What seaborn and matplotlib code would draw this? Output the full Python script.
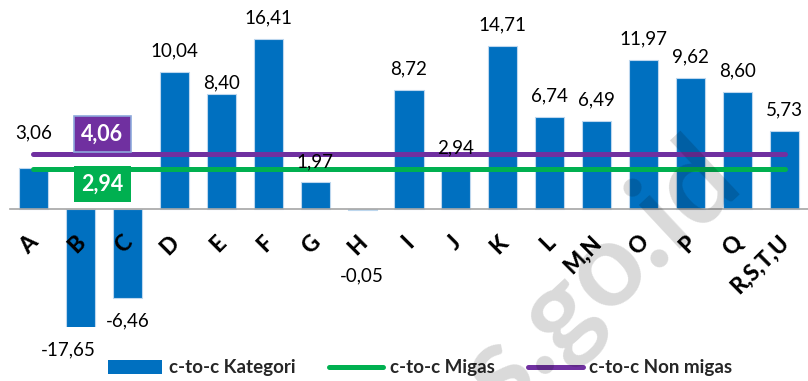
import numpy as np
import pandas as pd
import seaborn as sns
import matplotlib.pyplot as plt
from matplotlib.patches import Patch
from matplotlib.lines import Line2D
import matplotlib.transforms as mtransforms

categories = ['A', 'B', 'C', 'D', 'E', 'F', 'G', 'H', 'I', 'J', 'K', 'L',
              'M,N', 'O', 'P', 'Q', 'R,S,T,U']
kategori = [3.06, -17.65, -6.46, 10.04, 8.40, 16.41, 1.97, -0.05, 8.72, 2.94,
            14.71, 6.74, 6.49, 11.97, 9.62, 8.60, 5.73]
migas = 2.94
non_migas = 4.06

BLUE = '#0070C0'
GREEN = '#00B050'
PURPLE = '#7030A0'
GREY = '#A6A6A6'

sns.set_style('white')
plt.rcParams['font.family'] = ['Lato', 'DejaVu Sans']

W, H = 808, 381
fig = plt.figure(figsize=(W / 100, H / 100), dpi=100)
ax = fig.add_axes([10 / W, 1 - 327 / H, 1 - 10 / W, 327 / H])
ax.set_axisbelow(False)

df = pd.DataFrame({'kategori': categories, 'value': kategori})
sns.barplot(data=df, x='kategori', y='value', color=BLUE, width=0.62,
            edgecolor='#BDD7EE', linewidth=0.8, saturation=1, ax=ax)

n = len(categories)
xs = np.arange(n)
sns.lineplot(x=xs, y=np.full(n, migas), color=GREEN, lw=3.6,
             solid_capstyle='round', ax=ax, zorder=3)
sns.lineplot(x=xs, y=np.full(n, non_migas), color=PURPLE, lw=3.6,
             solid_capstyle='round', ax=ax, zorder=3)


# excel-like compressed top: linear up to 10, log-ish above
def fwd(y):
    y = np.asarray(y, float)
    return np.where(y > 10, 10 + 5 * np.log(np.maximum(y, 10) / 10), y)


def inv(t):
    t = np.asarray(t, float)
    return np.where(t > 10, 10 * np.exp((np.minimum(t, 60) - 10) / 5), t)


ax.set_yscale('function', functions=(fwd, inv))
ymin = -8.58
ax.set_ylim(ymin, 28.8)
ax.set_xlim(-0.5, n - 0.5)
ax.set_yticks([])
ax.set_ylabel(None)
ax.set_xlabel(None)
for s in ['top', 'right', 'left']:
    ax.spines[s].set_visible(False)
ax.spines['bottom'].set_position(('data', 0))
ax.spines['bottom'].set_color(GREY)
ax.spines['bottom'].set_linewidth(1.2)
ax.spines['bottom'].set_zorder(4)

ax.set_xticks(xs)
ax.set_xticklabels(categories, rotation=45, ha='right', va='top',
                   fontsize=16, fontweight=900, color='black')
ax.set_xticks(np.arange(-0.5, n, 1), minor=True)
ax.tick_params(axis='x', which='major', length=0, pad=16)
ax.tick_params(axis='x', which='minor', length=5, width=1.2, color=GREY,
               direction='out')
shift = mtransforms.ScaledTranslation(9 / 100, 0, fig.dpi_scale_trans)
for lab in ax.get_xticklabels():
    lab.set_transform(lab.get_transform() + shift)

# value labels
dy_special = {'A': 35, 'E': 12, 'H': -66}
dx_special = {'B': -12}
for i, (c, v) in enumerate(zip(categories, kategori)):
    dy = dy_special.get(c, 21 if v >= 0 else -23)
    dx = dx_special.get(c, 0)
    ax.annotate(f'{v:.2f}'.replace('.', ','), xy=(i, max(v, ymin)),
                xytext=(dx, dy), textcoords='offset pixels',
                ha='center', va='center', fontsize=13.5, color='black',
                annotation_clip=False)

ax.annotate(f'{non_migas:.2f}'.replace('.', ','), xy=(1.47, non_migas),
            xytext=(0, 20), textcoords='offset pixels', ha='center',
            va='center', fontsize=15.5, fontweight='bold', color='white',
            zorder=5,
            bbox=dict(boxstyle='square,pad=0.36', fc=PURPLE, ec='#8EA9DB',
                      lw=1.2))
ax.annotate(f'{migas:.2f}'.replace('.', ','), xy=(1.47, migas),
            xytext=(0, -15), textcoords='offset pixels', ha='center',
            va='center', fontsize=15.5, fontweight='bold', color='white',
            zorder=5,
            bbox=dict(boxstyle='square,pad=0.36', fc=GREEN, ec='none'))

handles = [Patch(facecolor=BLUE, edgecolor='none'),
           Line2D([], [], color=GREEN, lw=3.6, solid_capstyle='round'),
           Line2D([], [], color=PURPLE, lw=3.6, solid_capstyle='round')]
fig.legend(handles, ['c-to-c Kategori', 'c-to-c Migas', 'c-to-c Non migas'],
           loc='center', bbox_to_anchor=(420 / W, 1 - 368 / H), ncol=3,
           frameon=False, prop={'weight': 'bold', 'size': 13.5},
           handlelength=2.9, handletextpad=0.33, columnspacing=1.8)

# watermark
fig.text(552 / W, 1 - 318 / H, 'bps.go.id', rotation=43, ha='center',
         va='center', rotation_mode='anchor', fontsize=84, fontweight='bold',
         color='black', alpha=0.15, zorder=10)

fig.savefig('out.png', dpi=100)
